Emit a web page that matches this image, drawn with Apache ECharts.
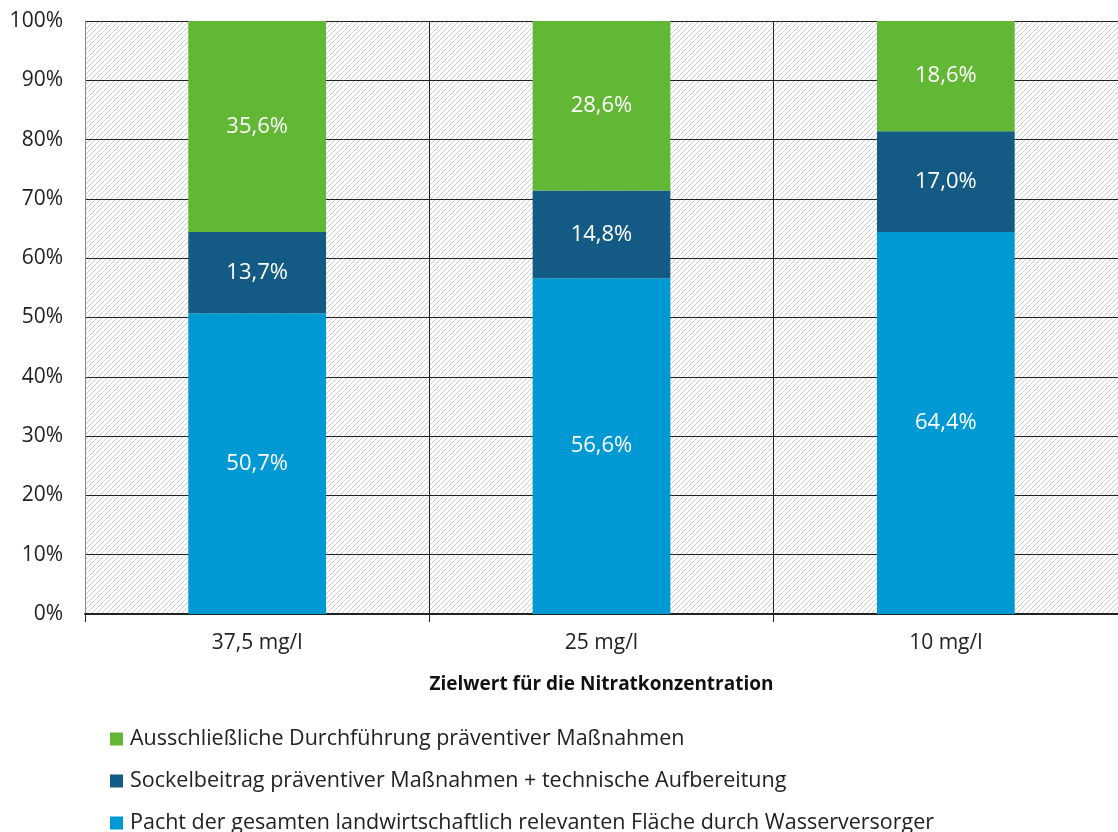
<!DOCTYPE html>
<html>
<head>
<meta charset="utf-8">
<script src="https://cdn.jsdelivr.net/npm/echarts@6/dist/echarts.min.js"></script>
<style>
  html, body { margin: 0; padding: 0; background: #fff; }
  #chart { width: 1118px; height: 832px; }
</style>
</head>
<body>
<div id="chart"></div>
<script>
// Daten
const categories = ['37,5 mg/l', '25 mg/l', '10 mg/l']
const pacht = [50.7, 56.6, 64.4]
const sockel = [13.7, 14.8, 17.0]
const praevention = [35.6, 28.6, 18.6]

const namePacht = 'Pacht der gesamten landwirtschaftlich relevanten Fläche durch Wasserversorger'
const nameSockel = 'Sockelbeitrag präventiver Maßnahmen + technische Aufbereitung'
const namePraev = 'Ausschließliche Durchführung präventiver Maßnahmen'

// schraffierter Hintergrund
const makeHatch = () => {
  const c = document.createElement('canvas')
  c.width = 5; c.height = 5
  const ctx = c.getContext('2d')
  ctx.fillStyle = '#ffffff'
  ctx.fillRect(0, 0, 5, 5)
  ctx.strokeStyle = '#cccccc'
  ctx.lineWidth = 1
  ctx.beginPath()
  ctx.moveTo(0, 5); ctx.lineTo(5, 0)
  ctx.moveTo(-1, 1); ctx.lineTo(1, -1)
  ctx.moveTo(4, 6); ctx.lineTo(6, 4)
  ctx.stroke()
  return c
}

const FONT = '"Open Sans", Lato, sans-serif'
const fmt = p => p.value.toFixed(1).replace('.', ',') + '%'
const label = { show: true, position: 'inside', color: '#fff', fontSize: 22, fontFamily: FONT, formatter: fmt }

const myChart = echarts.init(document.getElementById('chart'))
myChart.setOption({
  animation: false,
  textStyle: { fontFamily: FONT },
  grid: {
    left: 85, right: 0, top: 21, bottom: 218,
    show: true,
    borderWidth: 0,
    backgroundColor: { image: makeHatch(), repeat: 'repeat' }
  },
  legend: {
    orient: 'vertical',
    left: 110, top: 728,
    height: 120,
    padding: 0,
    itemWidth: 13, itemHeight: 13,
    itemGap: 20,
    icon: 'rect',
    textStyle: { fontSize: 21.5, color: '#222', fontFamily: FONT, padding: [0, 0, 0, 2] },
    data: [namePraev, nameSockel, namePacht]
  },
  xAxis: {
    type: 'category',
    data: categories,
    name: 'Zielwert für die Nitratkonzentration',
    nameLocation: 'middle',
    nameGap: 61,
    nameTextStyle: { fontSize: 19, fontWeight: 'bold', color: '#111', fontFamily: FONT },
    axisLine: { lineStyle: { color: '#222', width: 2 } },
    axisTick: { show: true, length: 8, lineStyle: { color: '#222' } },
    axisLabel: { fontSize: 21, color: '#222', margin: 19, fontFamily: FONT },
    splitLine: { show: true, lineStyle: { color: '#222', width: 1 } }
  },
  yAxis: {
    type: 'value',
    min: 0, max: 100, interval: 10,
    axisLine: { show: true, lineStyle: { color: '#888' } },
    axisTick: { show: false },
    axisLabel: { formatter: '{value}%', fontSize: 21, color: '#222', margin: 22, fontFamily: FONT },
    splitLine: { lineStyle: { color: '#222', width: 1 } }
  },
  series: [
    { name: namePacht, type: 'bar', stack: 'a', data: pacht, barWidth: '40%', itemStyle: { color: '#0099d3' }, label },
    { name: nameSockel, type: 'bar', stack: 'a', data: sockel, itemStyle: { color: '#135b84' }, label },
    { name: namePraev, type: 'bar', stack: 'a', data: praevention, itemStyle: { color: '#62b834' }, label }
  ]
})
window.addEventListener('resize', () => myChart.resize())
</script>
</body>
</html>
